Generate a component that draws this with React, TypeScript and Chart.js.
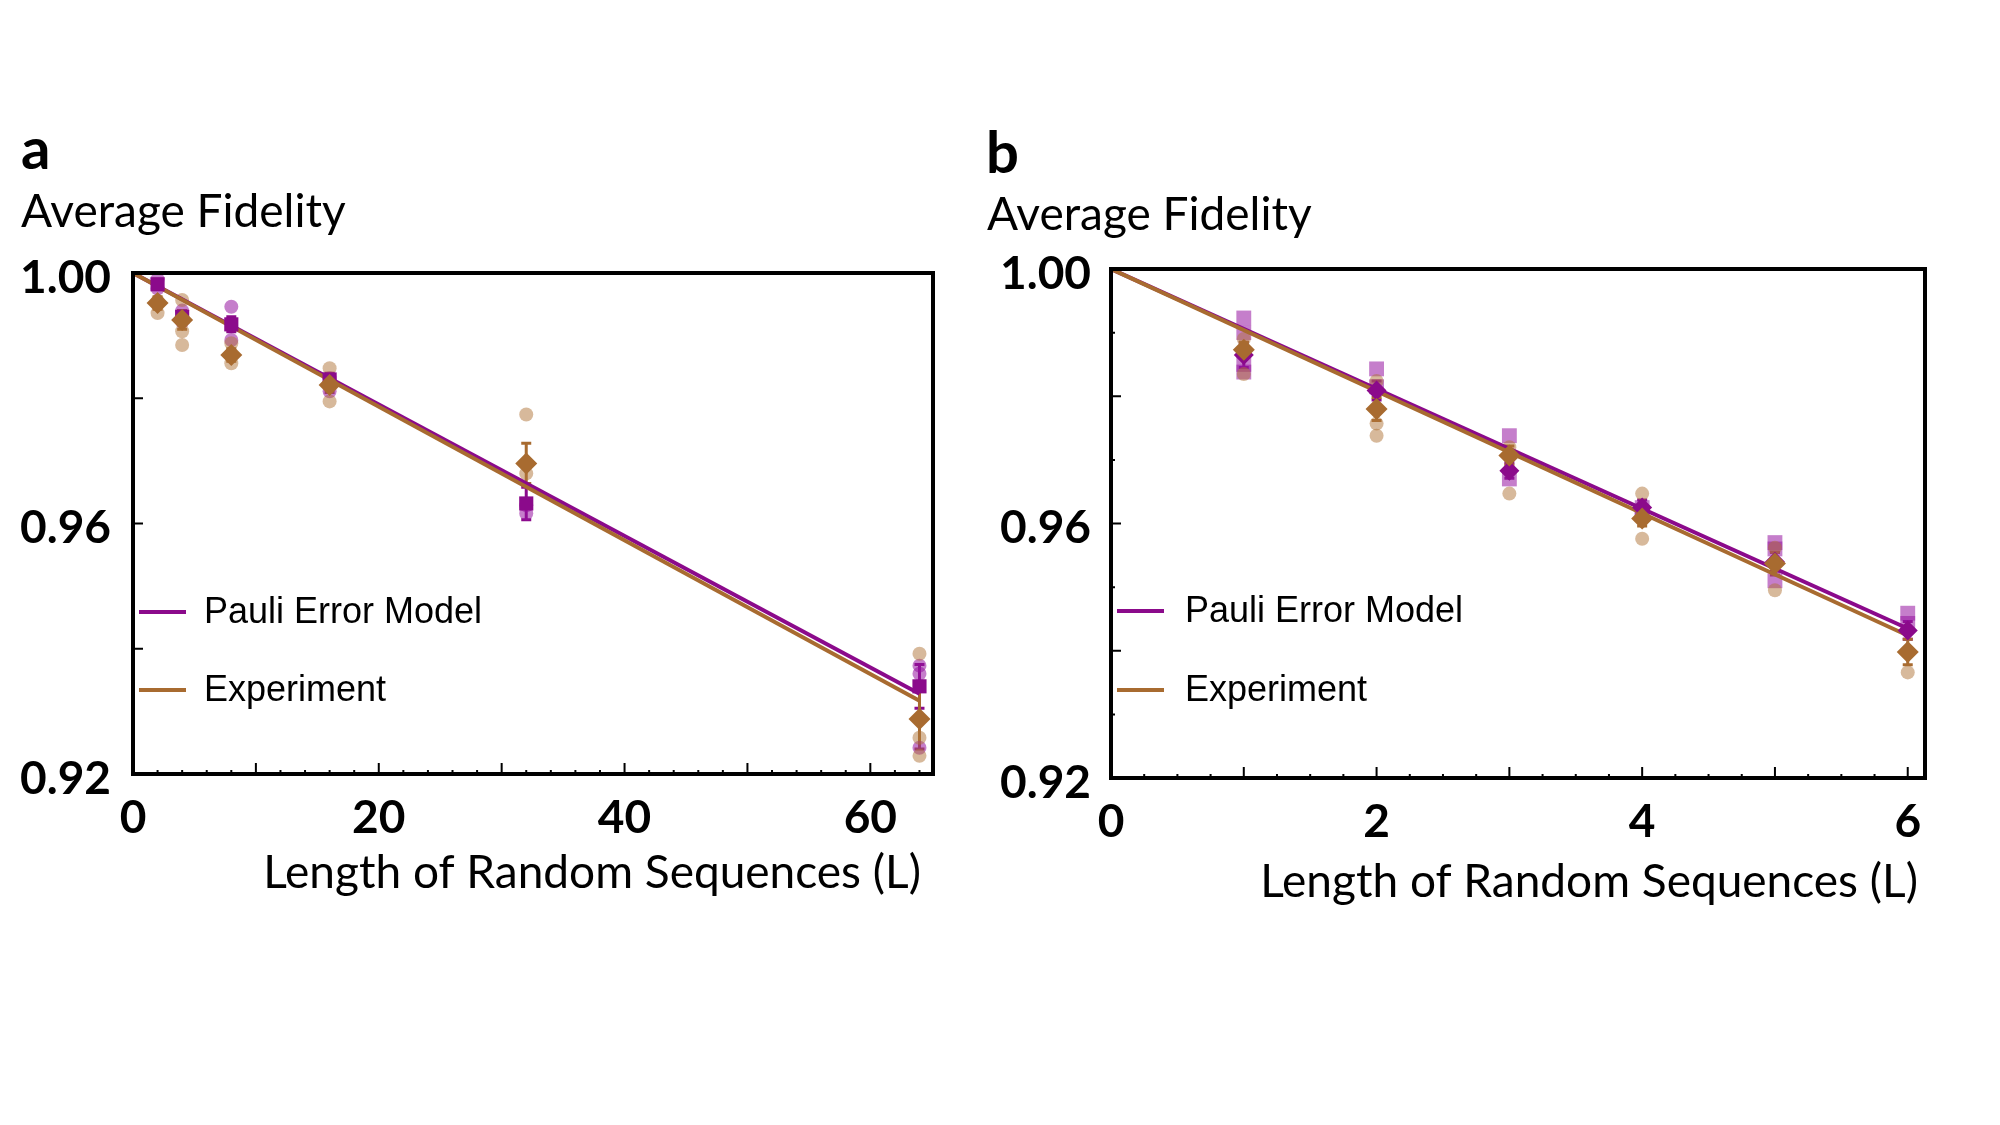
import React, { useEffect, useRef } from "react";
import { Chart, registerables } from "chart.js";

Chart.register(...registerables);

// ---------------- Panel a data ----------------
const lengthsA = [2, 4, 8, 16, 32, 64];
const pauliMeanA = [0.9982, 0.993, 0.9918, 0.983, 0.9632, 0.934];
const pauliErrA = [0.0008, 0.001, 0.0012, 0.001, 0.0026, 0.0035];
const pauliSamplesA = [
  [0.999, 0.9975],
  [0.994, 0.9922],
  [0.9946, 0.9893],
  [0.9832, 0.9811],
  [0.9629, 0.9616],
  [0.9373, 0.936, 0.9242],
];
const expMeanA = [0.9952, 0.9925, 0.9869, 0.9821, 0.9696, 0.9288];
const expErrA = [0.001, 0.0015, 0.001, 0.0012, 0.0032, 0.0048];
const expSamplesA = [
  [0.9955, 0.9936],
  [0.9957, 0.9907, 0.9885],
  [0.9888, 0.9856],
  [0.9848, 0.9795],
  [0.9774, 0.968],
  [0.9392, 0.9258, 0.9229],
];
const fitLengthsA = [0, 64];
const pauliFitA = [1.0, 0.9328];
const expFitA = [1.0, 0.9317];
const xTicksA = { min: 0, max: 65.1, step: 20 };

// ---------------- Panel b data ----------------
const lengthsB = [1, 2, 3, 4, 5, 6];
const pauliMeanB = [0.9865, 0.9809, 0.9683, 0.9625, 0.954, 0.9432];
const pauliErrB = [0.002, 0.0015, 0.0012, 0.0012, 0.0015, 0.0014];
const pauliSamplesB = [
  [0.9923, 0.99, 0.985, 0.9838],
  [0.9843, 0.9815],
  [0.9738, 0.967],
  [0.9625, 0.9615],
  [0.957, 0.956, 0.951],
  [0.9459, 0.9443],
];
const expMeanB = [0.9873, 0.978, 0.9707, 0.9608, 0.9537, 0.9398];
const expErrB = [0.0012, 0.0018, 0.0015, 0.0012, 0.0018, 0.002];
const expSamplesB = [
  [0.989, 0.9835],
  [0.9824, 0.9757, 0.9738],
  [0.972, 0.9647],
  [0.9647, 0.9576],
  [0.9562, 0.9495],
  [0.9366],
];
const fitLengthsB = [0, 6];
const pauliFitB = [1.0, 0.9435];
const expFitB = [1.0, 0.9424];
const xTicksB = { min: 0, max: 6.13, step: 2 };

const yTicks = { min: 0.92, max: 1.0, step: 0.04 };

const seriesNames = ["Pauli Error Model", "Experiment"];

// ---------------- styles ----------------
const PURPLE = "#8b0a8b";
const PURPLE_T = "rgba(150, 20, 160, 0.55)";
const BROWN = "#a86b30";
const BROWN_T = "rgba(175, 115, 55, 0.5)";
const TITLE_FONT = "Lato, Carlito, 'Open Sans', sans-serif";
const LEGEND_FONT = "'Liberation Sans', Arial, sans-serif";

const pts = (xs: number[], ys: number[]) => xs.map((x, i) => ({ x, y: ys[i] }));
const samplePts = (xs: number[], groups: number[][]) =>
  groups.flatMap((g, i) => g.map((y) => ({ x: xs[i], y })));

type Decor = {
  letter: string;
  letterPos: [number, number];
  yTitle: string;
  yTitlePos: [number, number];
  xTitle: string;
  xTitleRight: number;
  xTitleY: number;
  legendLineX: [number, number];
  legendTextX: number;
  legendY: [number, number];
  xMinor: number;
  xMajor: number;
  yMinor: number;
  yMajor: number;
  errorBars: { xs: number[]; means: number[]; errs: number[]; color: string }[];
};

function decorPlugin(cfg: Decor) {
  return {
    id: "decor",
    beforeDatasetsDraw(chart: any) {
      const { ctx } = chart;
      const xs = chart.scales.x;
      const ys = chart.scales.y;
      ctx.save();
      for (const eb of cfg.errorBars) {
        ctx.strokeStyle = eb.color;
        ctx.lineWidth = 3;
        eb.xs.forEach((xv, i) => {
          const px = xs.getPixelForValue(xv);
          const top = ys.getPixelForValue(eb.means[i] + eb.errs[i]);
          const bot = ys.getPixelForValue(eb.means[i] - eb.errs[i]);
          ctx.beginPath();
          ctx.moveTo(px, top);
          ctx.lineTo(px, bot);
          ctx.moveTo(px - 5, top);
          ctx.lineTo(px + 5, top);
          ctx.moveTo(px - 5, bot);
          ctx.lineTo(px + 5, bot);
          ctx.stroke();
        });
      }
      ctx.restore();
    },
    afterDraw(chart: any) {
      const { ctx, chartArea: a } = chart;
      const xs = chart.scales.x;
      const ys = chart.scales.y;
      ctx.save();
      // frame
      ctx.strokeStyle = "#000";
      ctx.lineWidth = 4;
      ctx.strokeRect(a.left, a.top, a.right - a.left, a.bottom - a.top);
      // ticks
      ctx.lineWidth = 2;
      ctx.beginPath();
      const isMul = (v: number, s: number) => Math.abs(v / s - Math.round(v / s)) < 1e-6;
      for (let i = 0; ; i++) {
        const v = xs.min + i * cfg.xMinor;
        if (v > xs.max + 1e-9) break;
        const p = xs.getPixelForValue(v);
        const len = isMul(v, cfg.xMajor) ? 11 : 4;
        ctx.moveTo(p, a.bottom);
        ctx.lineTo(p, a.bottom - len);
      }
      for (let i = 0; ; i++) {
        const v = ys.min + i * cfg.yMinor;
        if (v > ys.max + 1e-9) break;
        const p = ys.getPixelForValue(v);
        const len = isMul(v - ys.min, cfg.yMajor) ? 10 : 4;
        ctx.moveTo(a.left, p);
        ctx.lineTo(a.left + len, p);
      }
      ctx.stroke();
      // texts
      ctx.fillStyle = "#000";
      ctx.textBaseline = "alphabetic";
      ctx.textAlign = "left";
      ctx.font = `bold 58px ${TITLE_FONT}`;
      ctx.fillText(cfg.letter, cfg.letterPos[0], cfg.letterPos[1]);
      ctx.font = `46px ${TITLE_FONT}`;
      ctx.fillText(cfg.yTitle, cfg.yTitlePos[0], cfg.yTitlePos[1]);
      ctx.textAlign = "right";
      ctx.fillText(cfg.xTitle, cfg.xTitleRight, cfg.xTitleY);
      // legend
      const colors = [PURPLE, BROWN];
      ctx.textAlign = "left";
      ctx.textBaseline = "middle";
      ctx.font = `36px ${LEGEND_FONT}`;
      seriesNames.forEach((name, i) => {
        const y = cfg.legendY[i];
        ctx.strokeStyle = colors[i];
        ctx.lineWidth = 4;
        ctx.beginPath();
        ctx.moveTo(cfg.legendLineX[0], y);
        ctx.lineTo(cfg.legendLineX[1], y);
        ctx.stroke();
        ctx.fillText(name, cfg.legendTextX, y + 1);
      });
      ctx.restore();
    },
  };
}

type PanelSpec = {
  width: number;
  left: number;
  area: { left: number; right: number; top: number; bottom: number };
  xRange: { min: number; max: number; step: number };
  yPad: number;
  datasets: any[];
  decor: Decor;
};

function buildDatasets(
  lengths: number[],
  pauliMean: number[],
  pauliSamples: number[][],
  expMean: number[],
  expSamples: number[][],
  fitLengths: number[],
  pauliFit: number[],
  expFit: number[],
  panelB: boolean
) {
  return [
    {
      label: "Experiment mean",
      data: pts(lengths, expMean),
      pointStyle: "rectRot",
      pointRadius: 11,
      backgroundColor: BROWN,
      borderWidth: 0,
      showLine: false,
    },
    {
      label: "Pauli mean",
      data: pts(lengths, pauliMean),
      pointStyle: panelB ? "rectRot" : "rect",
      pointRadius: 10,
      backgroundColor: PURPLE,
      borderWidth: 0,
      showLine: false,
    },
    {
      label: "Experiment fit",
      data: pts(fitLengths, expFit),
      showLine: true,
      borderColor: BROWN,
      borderWidth: 4,
      pointRadius: 0,
    },
    {
      label: "Pauli fit",
      data: pts(fitLengths, pauliFit),
      showLine: true,
      borderColor: PURPLE,
      borderWidth: 4,
      pointRadius: 0,
    },
    {
      label: "Experiment runs",
      data: samplePts(lengths, expSamples),
      pointStyle: "circle",
      pointRadius: 7,
      backgroundColor: BROWN_T,
      borderWidth: 0,
      showLine: false,
    },
    {
      label: "Pauli runs",
      data: samplePts(lengths, pauliSamples),
      pointStyle: panelB ? "rect" : "circle",
      pointRadius: panelB ? 10.5 : 7,
      backgroundColor: PURPLE_T,
      borderWidth: 0,
      showLine: false,
    },
  ];
}

const panelA: PanelSpec = {
  width: 1000,
  left: 0,
  area: { left: 133, right: 933, top: 273, bottom: 774 },
  xRange: xTicksA,
  yPad: 22,
  datasets: buildDatasets(lengthsA, pauliMeanA, pauliSamplesA, expMeanA, expSamplesA, fitLengthsA, pauliFitA, expFitA, false),
  decor: {
    letter: "a",
    letterPos: [21, 169],
    yTitle: "Average Fidelity",
    yTitlePos: [21, 227],
    xTitle: "Length of Random Sequences (L)",
    xTitleRight: 921,
    xTitleY: 888,
    legendLineX: [139, 186],
    legendTextX: 204,
    legendY: [612, 690],
    xMinor: 2,
    xMajor: 10,
    yMinor: 0.02,
    yMajor: 0.02,
    errorBars: [
      { xs: lengthsA, means: pauliMeanA, errs: pauliErrA, color: PURPLE },
      { xs: lengthsA, means: expMeanA, errs: expErrA, color: BROWN },
    ],
  },
};

const panelB: PanelSpec = {
  width: 1040,
  left: 960,
  area: { left: 151, right: 965, top: 269, bottom: 778 },
  xRange: xTicksB,
  yPad: 20,
  datasets: buildDatasets(lengthsB, pauliMeanB, pauliSamplesB, expMeanB, expSamplesB, fitLengthsB, pauliFitB, expFitB, true),
  decor: {
    letter: "b",
    letterPos: [26, 173],
    yTitle: "Average Fidelity",
    yTitlePos: [27, 230],
    xTitle: "Length of Random Sequences (L)",
    xTitleRight: 958,
    xTitleY: 897,
    legendLineX: [157, 204],
    legendTextX: 225,
    legendY: [611, 690],
    xMinor: 0.25,
    xMajor: 1,
    yMinor: 0.01,
    yMajor: 0.02,
    errorBars: [
      { xs: lengthsB, means: pauliMeanB, errs: pauliErrB, color: PURPLE },
      { xs: lengthsB, means: expMeanB, errs: expErrB, color: BROWN },
    ],
  },
};

const HEIGHT = 1125;

function Panel({ spec }: { spec: PanelSpec }) {
  const ref = useRef<HTMLCanvasElement | null>(null);
  useEffect(() => {
    if (!ref.current) return;
    const { area } = spec;
    const tickFont = { family: TITLE_FONT, weight: "bold" as const, size: 46 };
    const chart = new Chart(ref.current, {
      type: "scatter",
      data: { datasets: spec.datasets },
      options: {
        animation: false,
        responsive: false,
        maintainAspectRatio: false,
        layout: { padding: { top: area.top, right: spec.width - area.right, bottom: 0, left: 0 } },
        plugins: { legend: { display: false }, tooltip: { enabled: false } },
        scales: {
          x: {
            type: "linear",
            min: spec.xRange.min,
            max: spec.xRange.max,
            afterFit: (s: any) => {
              s.height = HEIGHT - area.bottom;
            },
            grid: { display: false, drawTicks: false },
            border: { display: false },
            ticks: {
              stepSize: spec.xRange.step,
              includeBounds: false,
              padding: 17,
              color: "#000",
              font: tickFont,
              maxRotation: 0,
            },
          },
          y: {
            type: "linear",
            min: yTicks.min,
            max: yTicks.max,
            afterFit: (s: any) => {
              s.width = area.left;
            },
            grid: { display: false, drawTicks: false },
            border: { display: false },
            ticks: {
              stepSize: yTicks.step,
              padding: spec.yPad,
              labelOffset: 5,
              color: "#000",
              font: tickFont,
              callback: (v: any) => Number(v).toFixed(2),
            },
          },
        },
      } as any,
      plugins: [decorPlugin(spec.decor)],
    });
    return () => chart.destroy();
  }, [spec]);
  return (
    <canvas
      ref={ref}
      width={spec.width}
      height={HEIGHT}
      style={{ position: "absolute", left: spec.left, top: 0, width: spec.width, height: HEIGHT, display: "block" }}
    />
  );
}

export default function App() {
  return (
    <div style={{ position: "fixed", left: 0, top: 0, width: 2000, height: HEIGHT, background: "#fff", overflow: "hidden" }}>
      <Panel spec={panelA} />
      <Panel spec={panelB} />
    </div>
  );
}
